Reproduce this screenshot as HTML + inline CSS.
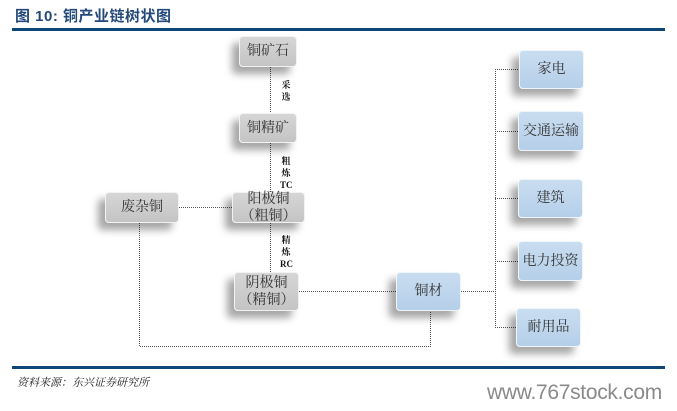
<!DOCTYPE html>
<html><head><meta charset="utf-8"><style>
body{margin:0;width:677px;height:411px;background:#fff;position:relative;overflow:hidden;font-family:"Liberation Serif","Noto Serif CJK SC","Noto Sans CJK SC",serif}
.t{position:absolute;left:15px;top:5px;font:bold 15px "Liberation Sans","Noto Sans CJK SC",sans-serif;color:#23497a;letter-spacing:0.5px}
.hl{position:absolute;left:12px;width:653px;height:3px;background:#0f4679}
.b{position:absolute;box-sizing:border-box;border:1px solid #f2f2f2;border-radius:4px;background:linear-gradient(#d6d6d6,#c4c4c4);box-shadow:-7px 7px 8px rgba(0,0,0,0.35);display:flex;align-items:center;justify-content:center;text-align:center;font-size:14px;color:#333;line-height:17px}
.u{background:linear-gradient(#c9ddf0,#b5cfe9);border-color:#eef5fb}
.l{position:absolute;font-size:9px;font-weight:bold;line-height:12px;color:#111;width:12px;text-align:center}
.src{position:absolute;left:17px;top:374px;font-size:11px;font-style:italic;color:#222;font-family:"Noto Serif CJK SC",serif}
.w{position:absolute;left:487px;top:381px;font:21px "Liberation Sans",sans-serif;color:#8a8a8a;letter-spacing:-0.3px;white-space:nowrap}
</style></head><body>
<div class="t">图 10: 铜产业链树状图</div>
<div class="hl" style="top:28px"></div>
<svg style="position:absolute;left:0;top:0" width="677" height="411">
<g stroke="#555" stroke-width="1" stroke-dasharray="1,1" fill="none">
<path d="M270.5 67V113M270.5 143V192M270.5 223V272"/>
<path d="M179 207.5H232"/>
<path d="M299 291.5H396"/>
<path d="M139.5 223V346.5H430.5V311"/>
<path d="M461 291.5H495.5M495.5 69V327"/>
<path d="M495 69.5H519M495 131.5H519M495 198.5H519M495 261.5H519M495 327.5H516"/>
</g></svg>
<div class="l" style="left:280px;top:79px">采<br>选</div>
<div class="l" style="left:280px;top:155px">粗<br>炼<br>TC</div>
<div class="l" style="left:280px;top:234px">精<br>炼<br>RC</div>
<div class="b" style="left:239px;top:36px;width:58px;height:31px">铜矿石</div>
<div class="b" style="left:239px;top:113px;width:58px;height:30px">铜精矿</div>
<div class="b" style="left:105px;top:192px;width:74px;height:31px">废杂铜</div>
<div class="b" style="left:232px;top:192px;width:73px;height:31px">阳极铜<br>（粗铜）</div>
<div class="b" style="left:234px;top:272px;width:65px;height:39px">阴极铜<br>（精铜）</div>
<div class="b u" style="left:396px;top:272px;width:65px;height:39px">铜材</div>
<div class="b u" style="left:519px;top:50px;width:65px;height:39px">家电</div>
<div class="b u" style="left:518px;top:111px;width:66px;height:40px">交通运输</div>
<div class="b u" style="left:518px;top:179px;width:65px;height:39px">建筑</div>
<div class="b u" style="left:518px;top:241px;width:65px;height:40px">电力投资</div>
<div class="b u" style="left:516px;top:308px;width:65px;height:39px">耐用品</div>
<div class="hl" style="top:366px"></div>
<div class="src">资料来源：东兴证券研究所</div>
<div class="w">www.767stock.com</div>
</body></html>
